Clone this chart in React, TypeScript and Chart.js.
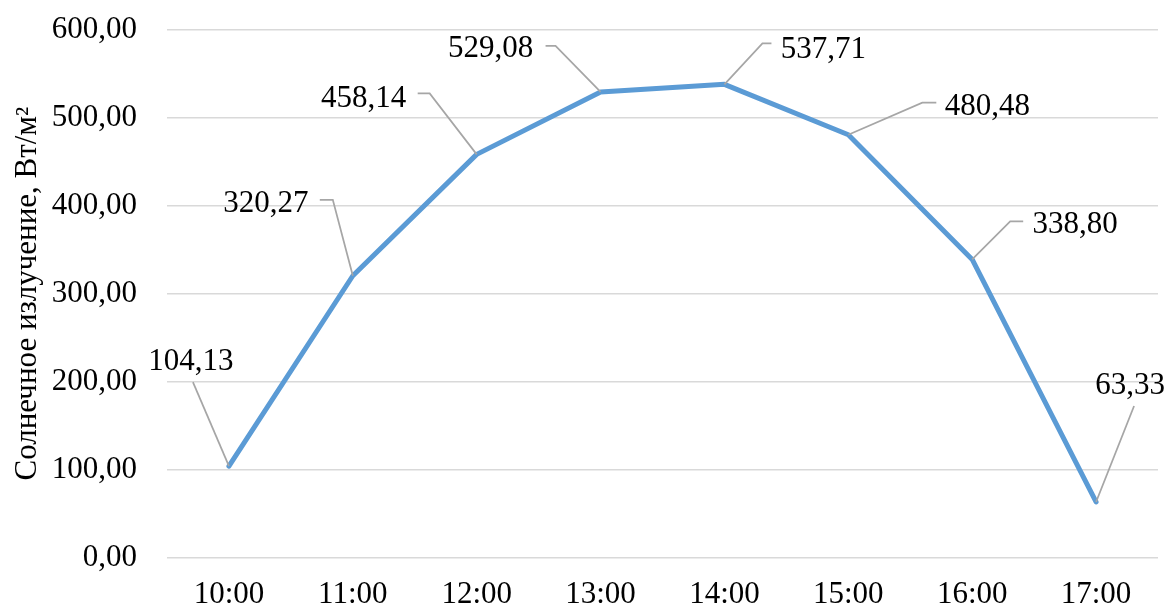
import React, { useEffect, useRef } from "react";
import { Chart, registerables } from "chart.js";

Chart.register(...registerables);

const categories = ["10:00", "11:00", "12:00", "13:00", "14:00", "15:00", "16:00", "17:00"];
const radiation = [104.13, 320.27, 458.14, 529.08, 537.71, 480.48, 338.8, 63.33];
const yTicks = [0, 100, 200, 300, 400, 500, 600];

// label placement (pixel offsets relative to the point): text centre, leader elbow, leader end
const labelText = [-38, -87, -113, -110, 99, 139, 103, 34];
const labelTextY = [-107, -74, -58, -45, -37, -30, -37, -118];
const elbowX = [-36, -20, -47, -45, 38, 74, 38, 38];
const elbowY = [-84, -76, -61, -46, -41, -32, -38, -96];
const endX = [-36, -33, -59, -55, 47, 88, 51, 38];
const endY = [-84, -76, -61, -46, -41, -32, -38, -96];

const FONT = "'Liberation Serif', 'Times New Roman', serif";
const fmt = (v: number) => v.toFixed(2).replace(".", ",");

const leaderLabels = {
  id: "leaderLabels",
  afterDatasetsDraw(chart: any) {
    const ctx = chart.ctx;
    const meta = chart.getDatasetMeta(0);
    const data = chart.data.datasets[0].data as number[];
    ctx.save();
    meta.data.forEach((pt: any, i: number) => {
      const x = pt.x;
      const y = pt.y;
      ctx.beginPath();
      ctx.strokeStyle = "#A6A6A6";
      ctx.lineWidth = 1.75;
      ctx.moveTo(x, y);
      ctx.lineTo(x + elbowX[i], y + elbowY[i]);
      ctx.lineTo(x + endX[i], y + endY[i]);
      ctx.stroke();
      ctx.fillStyle = "#000";
      ctx.font = `31px ${FONT}`;
      ctx.textAlign = "center";
      ctx.textBaseline = "alphabetic";
      ctx.fillText(fmt(data[i]), x + labelText[i], y + labelTextY[i] + 10.5);
    });
    ctx.restore();
  },
};

export default function App() {
  const ref = useRef<HTMLCanvasElement | null>(null);
  useEffect(() => {
    if (!ref.current) return;
    const chart = new Chart(ref.current, {
      type: "line",
      data: {
        labels: categories,
        datasets: [
          {
            data: radiation,
            borderColor: "#5B9BD5",
            borderWidth: 5,
            pointRadius: 0,
            borderCapStyle: "round",
            borderJoinStyle: "round",
            tension: 0,
            fill: false,
          },
        ],
      },
      options: {
        animation: false,
        responsive: true,
        maintainAspectRatio: false,
        layout: { padding: { top: 29.5, right: 10, left: 0, bottom: 0 } },
        plugins: {
          legend: { display: false },
          tooltip: { enabled: false },
        },
        scales: {
          x: {
            offset: true,
            grid: { display: false, drawTicks: false },
            border: { display: false },
            ticks: {
              color: "#000",
              font: { family: FONT, size: 31 },
              padding: 19,
              maxRotation: 0,
            },
            afterFit: (s: any) => {
              s.height = 49.3;
            },
          },
          y: {
            min: 0,
            max: 600,
            afterBuildTicks: (s: any) => {
              s.ticks = yTicks.map((v) => ({ value: v }));
            },
            grid: {
              color: "#D9D9D9",
              lineWidth: 1.5,
              drawTicks: true,
              tickLength: 30,
              tickColor: "rgba(0,0,0,0)",
            },
            border: { display: false },
            ticks: {
              color: "#000",
              font: { family: FONT, size: 31 },
              padding: 0,
              callback: (v: any) => fmt(Number(v)),
            },
            title: {
              display: true,
              text: "Солнечное излучение, Вт/м²",
              color: "#000",
              font: { family: FONT, size: 31 },
              padding: { top: 9, bottom: 0 },
            },
            afterFit: (s: any) => {
              s.width = 167;
            },
          },
        },
      },
      plugins: [leaderLabels],
    });
    return () => chart.destroy();
  }, []);
  return (
    <div style={{ position: "fixed", left: 0, top: 0, width: 1168, height: 607, background: "#fff" }}>
      <canvas ref={ref} />
    </div>
  );
}
